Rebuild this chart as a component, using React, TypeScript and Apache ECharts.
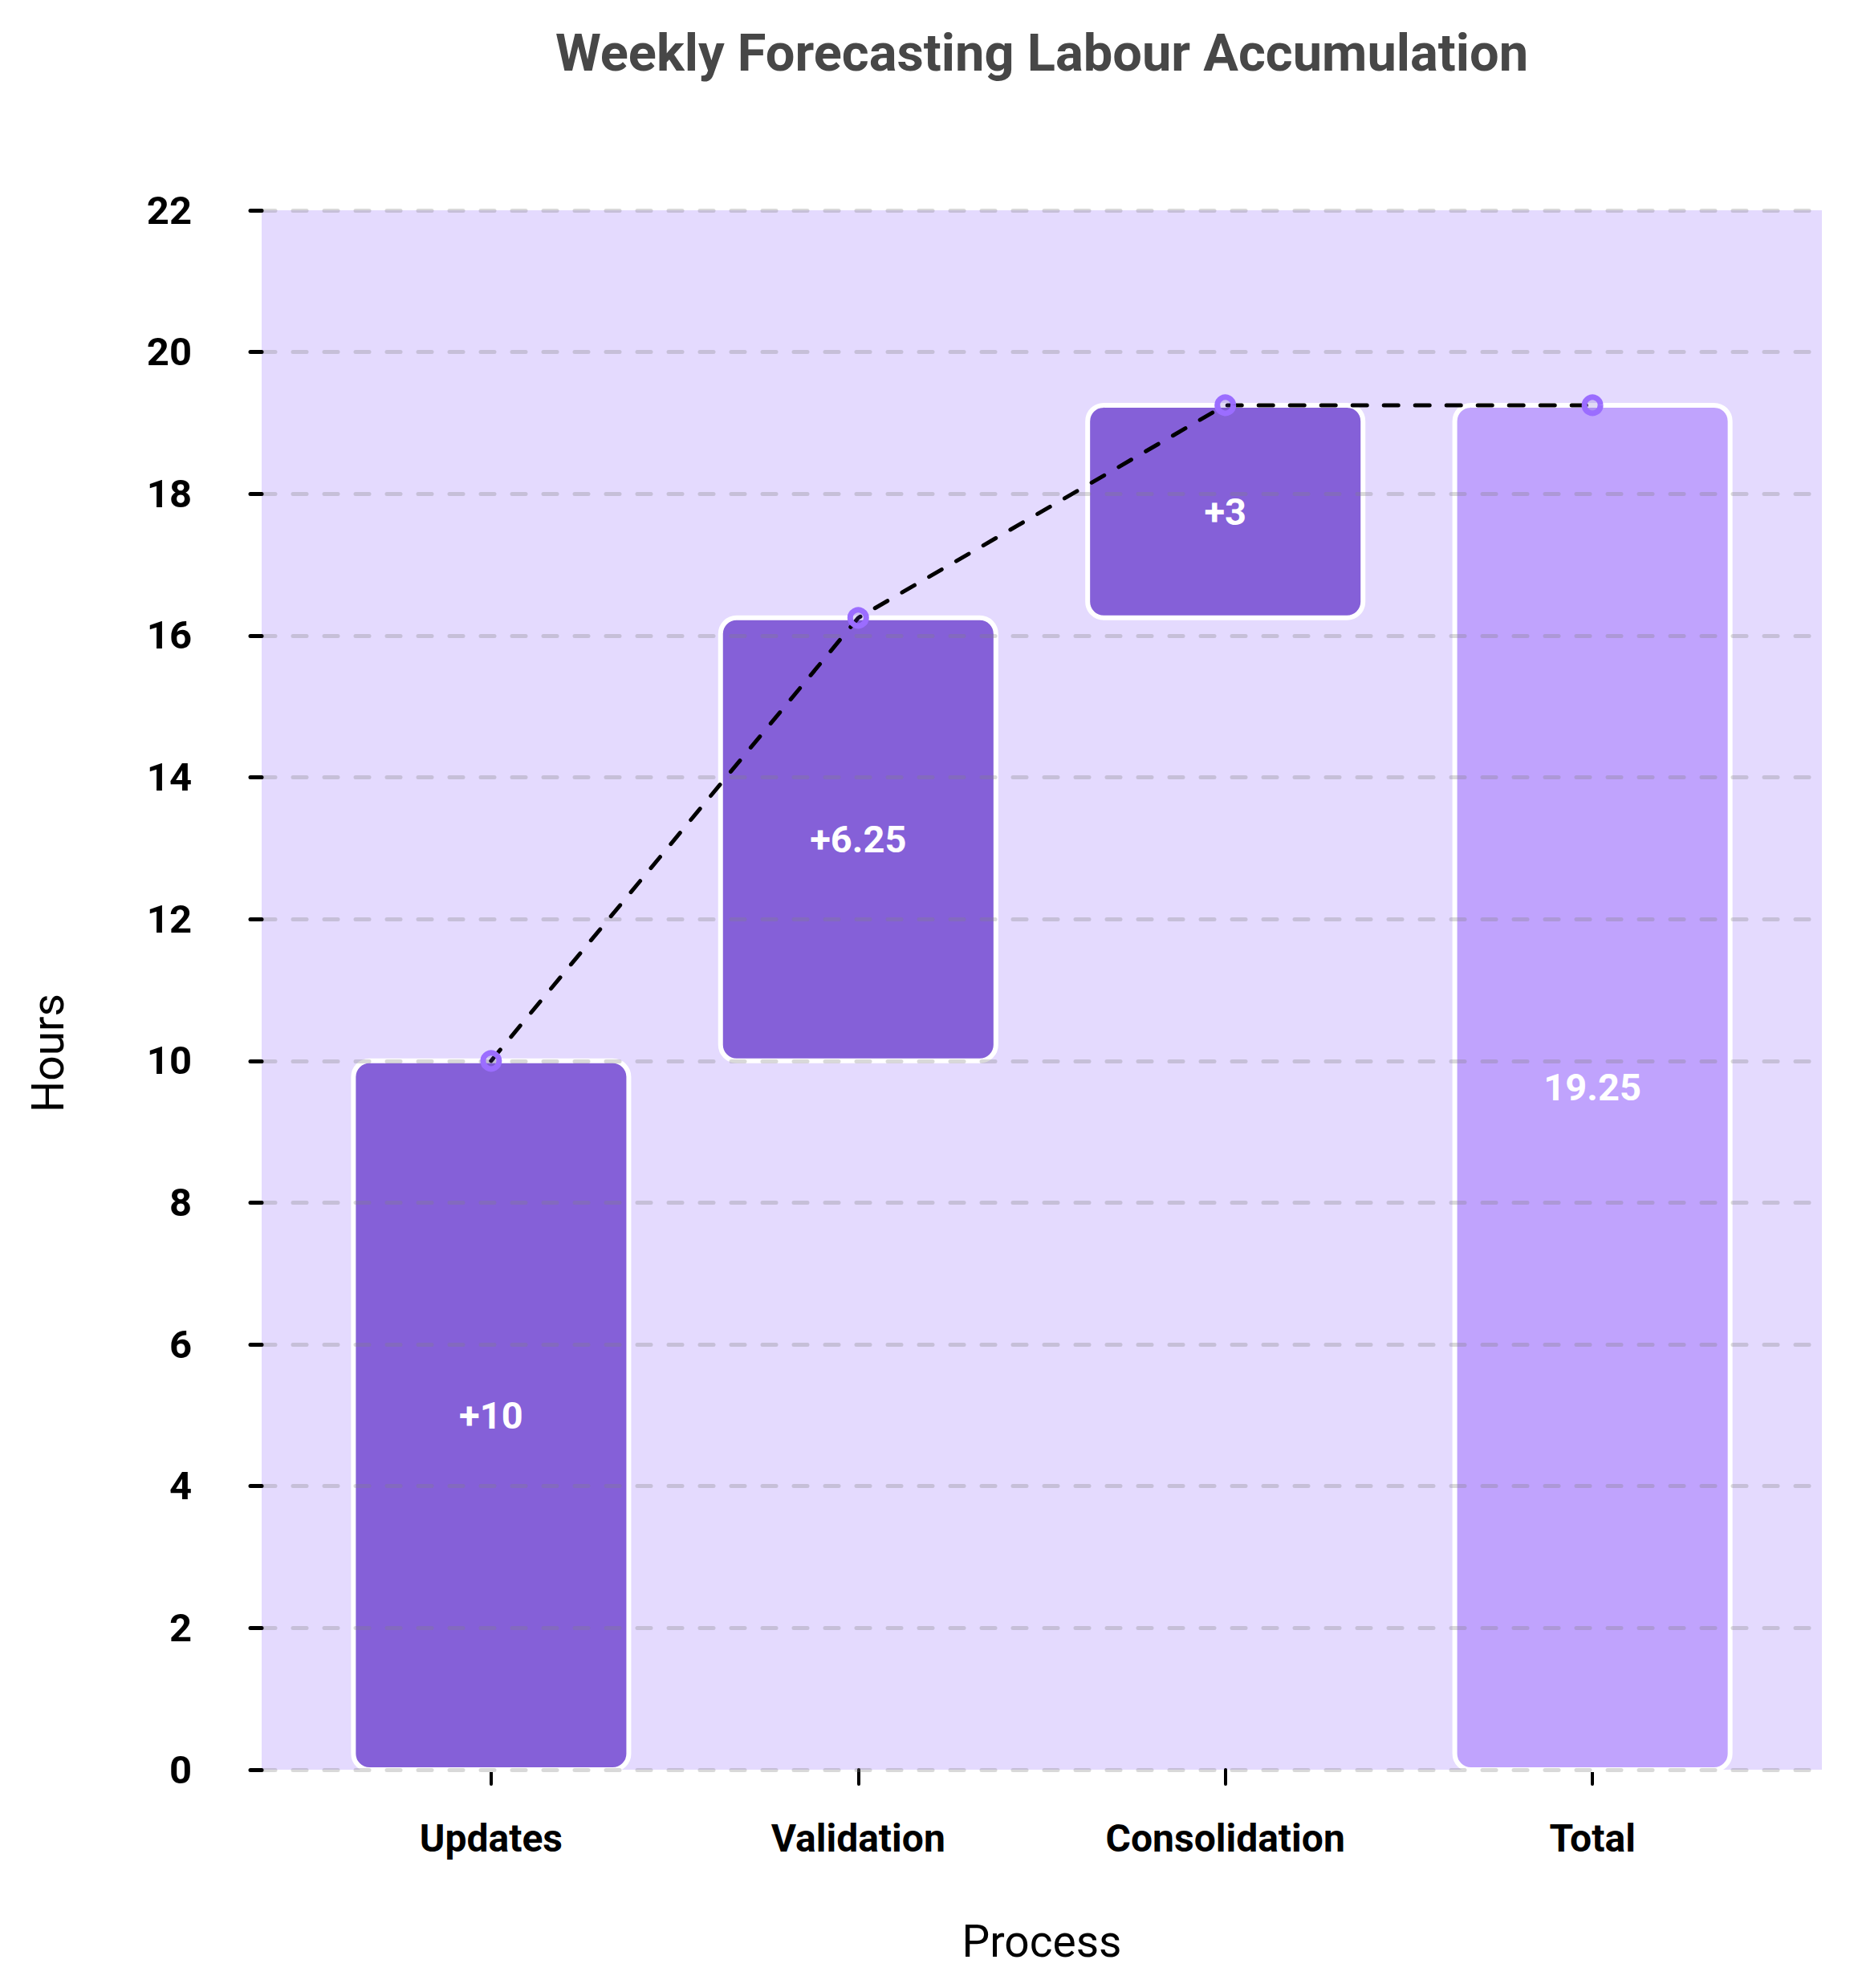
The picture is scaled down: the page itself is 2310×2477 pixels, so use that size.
import React, { useEffect, useRef } from "react";
import * as echarts from "echarts";

const categories = ["Updates", "Validation", "Consolidation", "Total"];
const stepValues = [10, 6.25, 3];
const totalValue = 19.25;
const barLabels = ["+10", "+6.25", "+3", "19.25"];
const yTicks = { min: 0, max: 22, interval: 2 };

const chartTitle = "Weekly Forecasting Labour Accumulation";
const xTitle = "Process";
const yTitle = "Hours";

const INC_COLOR = "#8560D8";
const TOTAL_COLOR = "#C0A3FD";
const BG_COLOR = "#E4DAFE";
const FONT = "Roboto, 'Noto Sans', sans-serif";
const BAR_UNITS = 0.75;

export default function App() {
  const ref = useRef<HTMLDivElement>(null);

  useEffect(() => {
    document.body.style.margin = "0";
    if (!ref.current) return;
    const chart = echarts.init(ref.current, undefined, { renderer: "svg" });

    const xIdx = categories.map((_, i) => i);
    const bases: number[] = [];
    const heights: number[] = [];
    let run = 0;
    stepValues.forEach((v) => {
      bases.push(run);
      heights.push(v);
      run += v;
    });
    bases.push(0);
    heights.push(totalValue);
    const tops = xIdx.map((i) => bases[i] + heights[i]);

    const W = 2310;
    const H = 2477;
    const gl = 326, gr = 2270, gt = 262, gb = 2205;

    chart.setOption({
      animation: false,
      textStyle: { fontFamily: FONT },
      grid: {
        left: gl,
        right: W - gr,
        top: gt,
        bottom: H - gb,
        show: true,
        backgroundColor: BG_COLOR,
        borderWidth: 0,
        containLabel: false,
      },
      xAxis: {
        type: "value",
        min: -0.625,
        max: 3.625,
        splitLine: { show: false },
        axisLine: { show: false, onZero: false },
        axisTick: {
          show: true,
          customValues: xIdx,
          length: 18,
          lineStyle: { color: "#000", width: 4, cap: "round" },
        },
        axisLabel: {
          show: true,
          customValues: xIdx,
          margin: 61,
          fontSize: 48,
          fontWeight: "bold",
          color: "#000",
          fontFamily: FONT,
          formatter: (v: number) => categories[Math.round(v)] ?? "",
        },
      },
      yAxis: {
        type: "value",
        min: yTicks.min,
        max: yTicks.max,
        interval: yTicks.interval,
        z: 3,
        axisLine: { show: false, onZero: false },
        axisTick: {
          show: true,
          length: 14,
          lineStyle: { color: "#000", width: 5, cap: "round" },
        },
        axisLabel: {
          margin: 87,
          fontSize: 49,
          fontWeight: "bold",
          color: "#000",
          fontFamily: FONT,
        },
        splitLine: {
          show: true,
          lineStyle: {
            color: "rgba(128,128,128,0.3)",
            width: 5,
            type: [17, 22],
            cap: "round",
          },
        },
      },
      graphic: [
        {
          type: "text",
          x: (gl + gr) / 2,
          y: 66,
          style: {
            text: chartTitle,
            fontSize: 65,
            fontWeight: "bold",
            fill: "#474747",
            fontFamily: FONT,
            align: "center",
            verticalAlign: "middle",
          },
        },
        {
          type: "text",
          x: (gl + gr) / 2,
          y: 2419,
          style: {
            text: xTitle,
            fontSize: 55,
            fill: "#000",
            fontFamily: FONT,
            align: "center",
            verticalAlign: "middle",
          },
        },
        {
          type: "text",
          x: 60,
          y: 1312,
          rotation: Math.PI / 2,
          style: {
            text: yTitle,
            fontSize: 55,
            fill: "#000",
            fontFamily: FONT,
            align: "center",
            verticalAlign: "middle",
          },
        },
      ],
      series: [
        {
          type: "custom",
          name: "waterfall",
          z: 2,
          encode: { x: 0, y: [1, 2] },
          data: xIdx.map((i) => [i, bases[i], tops[i]]),
          renderItem: (params: any, api: any) => {
            const i = api.value(0);
            const b = api.value(1);
            const t = api.value(2);
            const pTop = api.coord([i, t]);
            const pBot = api.coord([i, b]);
            const w = api.size([BAR_UNITS, 0])[0];
            const isTotal = params.dataIndex === categories.length - 1;
            return {
              type: "rect",
              shape: {
                x: pTop[0] - w / 2,
                y: pTop[1],
                width: w,
                height: pBot[1] - pTop[1],
                r: 20,
              },
              style: {
                fill: isTotal ? TOTAL_COLOR : INC_COLOR,
                stroke: "#ffffff",
                lineWidth: 6,
              },
              textContent: {
                style: {
                  text: barLabels[params.dataIndex],
                  fill: "#ffffff",
                  fontSize: 47,
                  fontWeight: "bold",
                  fontFamily: FONT,
                },
              },
              textConfig: { position: "inside" },
            };
          },
        },
        {
          type: "line",
          name: "connector",
          z: 10,
          data: xIdx.map((i) => [i, tops[i]]),
          lineStyle: {
            color: "#000",
            width: 5,
            type: [18, 21],
            cap: "round",
          },
          symbol: "circle",
          symbolSize: 20,
          itemStyle: {
            color: "rgba(100,70,200,0.2)",
            borderColor: "#9B6DFF",
            borderWidth: 7,
          },
        },
      ],
    });

    return () => chart.dispose();
  }, []);

  return <div ref={ref} style={{ width: 2310, height: 2477 }} />;
}
